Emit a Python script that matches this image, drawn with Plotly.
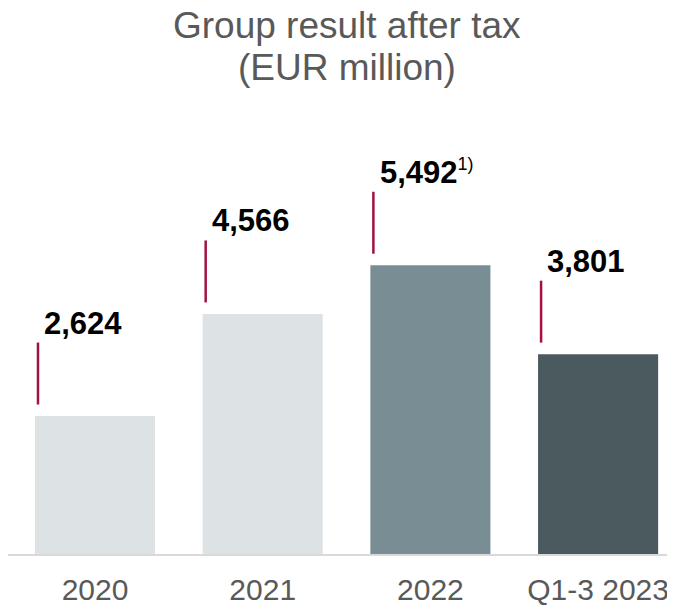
import plotly.graph_objects as go

categories = ["2020", "2021", "2022", "Q1-3 2023"]
values = [2624, 4566, 5492, 3801]
value_labels = ["2,624", "4,566", "5,492", "3,801"]
footnotes = ["", "", "1)", ""]
bar_colors = ["#dde2e5", "#dde2e5", "#788e94", "#4a5a5f"]
title_lines = ["Group result after tax", "(EUR million)"]

FONT = "Arial, Liberation Sans, Helvetica, sans-serif"
BAR_W = 0.716
LINE_GAP = 219      # gap between bar top and marker line (data units)
LINE_TOP = 1398     # marker line top above bar top (data units)

xs = list(range(len(categories)))

fig = go.Figure(
    go.Bar(
        x=xs,
        y=values,
        width=BAR_W,
        marker=dict(color=bar_colors, line=dict(width=0)),
        hoverinfo="skip",
    )
)

shapes = []
annotations = []
for i, v in enumerate(values):
    lx = i - BAR_W / 2 + 0.018
    shapes.append(dict(type="line", xref="x", yref="y",
                       x0=lx, x1=lx, y0=v + LINE_GAP, y1=v + LINE_TOP,
                       line=dict(color="#a3123f", width=2.5)))
    txt = "<b>" + value_labels[i] + "</b>"
    if footnotes[i]:
        txt += "<sup><span style='font-size:18px'>" + footnotes[i] + "</span></sup>"
    annotations.append(dict(xref="x", yref="y", x=lx + 0.025, y=v + LINE_TOP,
                            text=txt, showarrow=False, xanchor="left", yanchor="bottom",
                            font=dict(family=FONT, size=31, color="#000000")))

annotations.append(dict(xref="paper", yref="paper", x=0.508, y=1.163, text=title_lines[0],
                        showarrow=False, xanchor="center", yanchor="middle",
                        font=dict(family=FONT, size=37, color="#595959")))
annotations.append(dict(xref="paper", yref="paper", x=0.508, y=1.072, text=title_lines[1],
                        showarrow=False, xanchor="center", yanchor="middle",
                        font=dict(family=FONT, size=37, color="#595959")))

fig.update_layout(
    width=667, height=600,
    margin=dict(l=0, r=0, t=92, b=54),
    paper_bgcolor="white", plot_bgcolor="white",
    showlegend=False,
    shapes=shapes, annotations=annotations,
    xaxis=dict(range=[-0.5188, 3.4586], tickvals=xs, ticktext=categories,
               showline=True, linecolor="#d9d9d9", linewidth=2,
               showgrid=False, zeroline=False, ticks="",
               ticklabelstandoff=8,
               tickfont=dict(family=FONT, size=30, color="#595959"),
               fixedrange=True),
    yaxis=dict(range=[0, 8635], visible=False, fixedrange=True),
)

fig.write_html("out.html")
